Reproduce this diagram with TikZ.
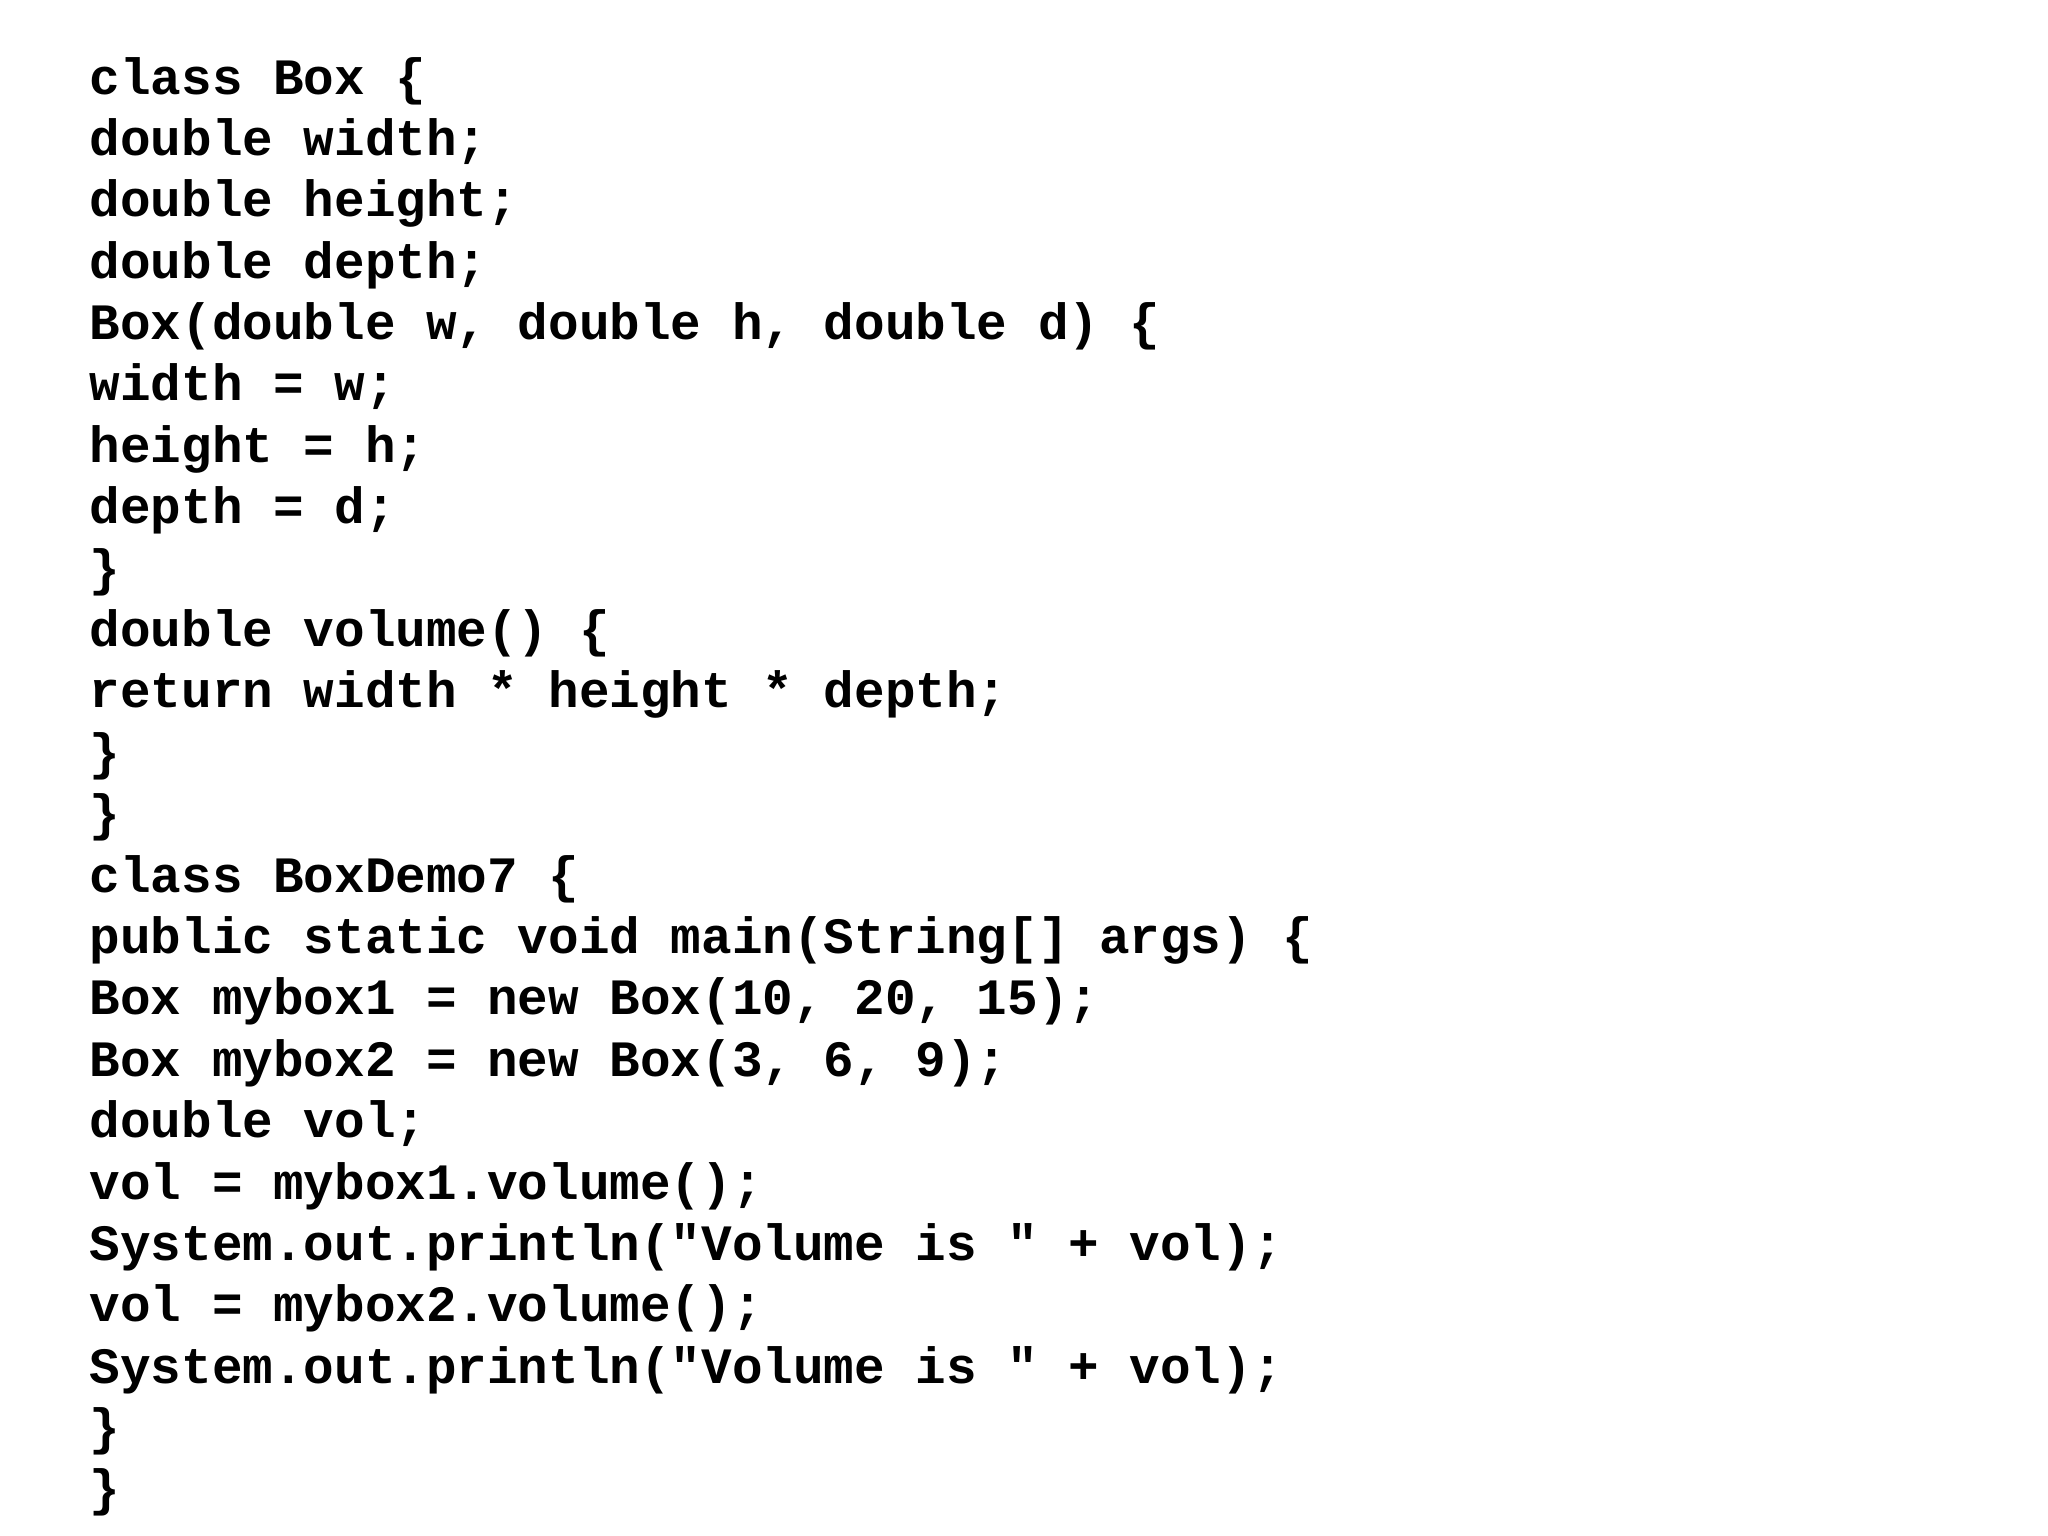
\documentclass[tikz,border=0pt]{standalone}
\usepackage{fontspec}
\setmonofont{Liberation Mono}
\begin{document}
\begin{tikzpicture}[x=0.01cm,y=-0.01cm,
  codeline/.style={anchor=base west,inner sep=0pt,font=\fontsize{11.1pt}{13pt}\ttfamily\bfseries}]
\useasboundingbox (0,0) rectangle (1568,1176);
\foreach \t [count=\i from 0] in {
{class Box \{},
{double width;},
{double height;},
{double depth;},
{Box(double w, double h, double d) \{},
{width = w;},
{height = h;},
{depth = d;},
{\}},
{double volume() \{},
{return width * height * depth;},
{\}},
{\}},
{class BoxDemo7 \{},
{public static void main(String[] args) \{},
{Box mybox1 = new Box(10, 20, 15);},
{Box mybox2 = new Box(3, 6, 9);},
{double vol;},
{vol = mybox1.volume();},
{System.out.println("Volume is " + vol);},
{vol = mybox2.volume();},
{System.out.println("Volume is " + vol);},
{\}},
{\}}}
{\node[codeline] (l\i) at (68,{72+47*\i}) {\t};}
\end{tikzpicture}
\end{document}
